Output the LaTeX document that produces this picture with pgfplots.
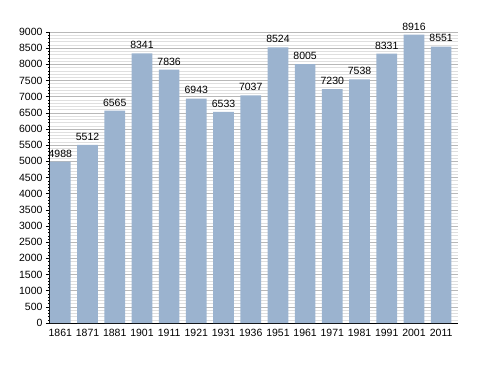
\documentclass[border=0pt]{standalone}
\usepackage{pgfplots}
\pgfplotsset{compat=1.18}
\usepackage{fontspec}
\setmainfont{Liberation Sans}
\definecolor{barc}{HTML}{9BB3CF}
\definecolor{majg}{HTML}{B8B8B8}
\definecolor{ming}{HTML}{DFDFDF}
\begin{document}
\begin{tikzpicture}[x=1pt,y=1pt]
\path[use as bounding box] (-50,-50) rectangle (438,323);
\begin{axis}[
  at={(0,0)}, anchor=south west,
  scale only axis, width=408pt, height=291pt,
  ymin=0, ymax=9000,
  xmin=-0.38, xmax=14.62,
  ytick={0,500,...,9000},
  minor y tick num=4,
  xtick={0,...,14},
  xticklabels={1861,1871,1881,1901,1911,1921,1931,1936,1951,1961,1971,1981,1991,2001,2011},
  axis x line*=bottom, axis y line*=left,
  x axis line style={-, black, line width=1pt},
  y axis line style={-, black, line width=1pt},
  x tick style={draw=none},
  ytick style={black, line width=0.6pt},
  minor y tick style={black, line width=0.4pt},
  tick align=outside,
  major tick length=4pt, minor tick length=2pt,
  ymajorgrids, yminorgrids,
  major grid style={majg, line width=0.6pt},
  minor grid style={ming, line width=0.5pt},
  tick label style={font=\fontsize{10.5}{12}\selectfont},
  xticklabel style={yshift=1pt},
  /pgf/number format/assume math mode=true,
  yticklabel style={/pgf/number format/fixed, /pgf/number format/1000 sep={}},
  scaled y ticks=false,
  ybar, bar width=0.76, bar shift=0pt,
  nodes near coords,
  every node near coord/.style={font=\fontsize{10.5}{12}\selectfont, black, /pgf/number format/1000 sep={}, /pgf/number format/assume math mode=true, yshift=1pt},
  clip=false,
]
\addplot[fill=barc, draw=none] coordinates {
(0,4988) (1,5512) (2,6565) (3,8341) (4,7836) (5,6943) (6,6533) (7,7037)
(8,8524) (9,8005) (10,7230) (11,7538) (12,8331) (13,8916) (14,8551)};
\end{axis}
\end{tikzpicture}
\end{document}
